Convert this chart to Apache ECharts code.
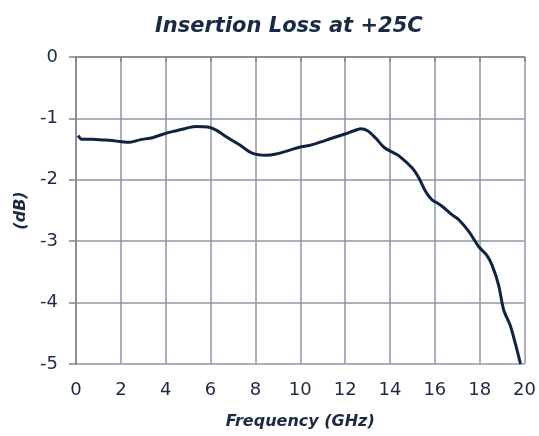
<!DOCTYPE html>
<html><head><meta charset="utf-8">
<script src="https://cdn.jsdelivr.net/npm/echarts@6/dist/echarts.min.js"></script>
<style>html,body{margin:0;padding:0;background:#fff}#c{width:539px;height:436px}</style>
</head><body><div id="c"></div>
<script>
const freq = [0.1,0.25,0.7,1.2,1.6,2.03,2.4,2.84,3.44,4.03,4.47,4.92,5.36,5.88,6.25,6.7,7.29,7.88,8.48,8.92,9.5,9.96,10.4,10.7,11.44,12.03,12.33,12.7,13.0,13.36,13.73,14.1,14.4,15.0,15.29,15.59,15.88,16.03,16.32,16.77,17.07,17.51,17.96,18.32,18.55,18.84,19.07,19.36,19.59,19.82];
const loss = [-1.28,-1.34,-1.34,-1.35,-1.36,-1.38,-1.39,-1.35,-1.31,-1.24,-1.20,-1.16,-1.13,-1.14,-1.19,-1.30,-1.43,-1.57,-1.60,-1.58,-1.52,-1.47,-1.44,-1.41,-1.32,-1.25,-1.21,-1.17,-1.20,-1.32,-1.47,-1.55,-1.61,-1.81,-1.97,-2.19,-2.33,-2.36,-2.43,-2.57,-2.65,-2.84,-3.09,-3.23,-3.39,-3.71,-4.12,-4.37,-4.67,-5.0];
const xTicks = [0,2,4,6,8,10,12,14,16,18,20];
const yTicks = [0,-1,-2,-3,-4,-5];
const chart = echarts.init(document.getElementById('c'));
const font = 'DejaVu Sans';
const txt = '#1b2a44';
chart.setOption({
  animation:false,
  title:{text:'Insertion Loss at +25C',left:150,top:11,textStyle:{fontFamily:font,fontSize:21,fontWeight:'bold',fontStyle:'italic',color:txt}},
  grid:{left:76,right:13,top:57,bottom:72},
  xAxis:{type:'value',min:0,max:20,interval:2,name:'Frequency (GHz)',nameLocation:'middle',nameGap:50,
    nameTextStyle:{fontFamily:font,fontSize:16,fontWeight:'bold',fontStyle:'italic',color:txt},
    axisLine:{lineStyle:{color:'#7f858d',width:1.5}},axisTick:{show:true,length:5,lineStyle:{color:'#7f858d',width:1.5}},
    axisLabel:{fontFamily:font,fontSize:18,color:txt,margin:17,formatter:v=>xTicks.includes(v)?String(v):''},
    splitLine:{show:true,lineStyle:{color:'#8d97a6',width:1.5}}},
  yAxis:{type:'value',min:-5,max:0,interval:1,name:'(dB)',nameLocation:'middle',nameGap:45,
    nameTextStyle:{fontFamily:font,fontSize:16,fontWeight:'bold',fontStyle:'italic',color:txt},
    axisLine:{show:true,lineStyle:{color:'#7f858d',width:1.5}},axisTick:{show:true,length:7,lineStyle:{color:'#7f858d',width:1.5}},
    axisLabel:{fontFamily:font,fontSize:18,color:txt,margin:18,formatter:v=>yTicks.includes(v)?String(v):''},
    splitLine:{show:true,lineStyle:{color:'#8d97a6',width:1.5}}},
  series:[{type:'line',data:freq.map((f,i)=>[f,loss[i]]),smooth:0.3,showSymbol:false,
    lineStyle:{color:'#0e2340',width:3}}]
});
</script></body></html>
